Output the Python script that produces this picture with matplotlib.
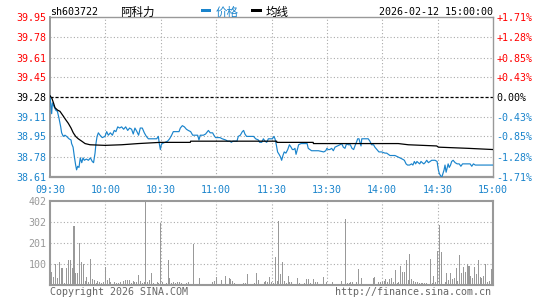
import matplotlib
matplotlib.use("Agg")
import matplotlib.pyplot as plt
from matplotlib.patches import Rectangle

# ---------------- data ----------------
stock_code = "sh603722"
stock_name = "阿科力"
timestamp = "2026-02-12 15:00:00"
prev_close = 39.28

price_ticks = [38.61, 38.78, 38.95, 39.11, 39.28, 39.45, 39.61, 39.78, 39.95]
price_tick_labels = ["38.61", "38.78", "38.95", "39.11", "39.28", "39.45", "39.61", "39.78", "39.95"]
pct_tick_labels = ["-1.71%", "-1.28%", "-0.85%", "-0.43%", "0.00%", "+0.43%", "+0.85%", "+1.28%", "+1.71%"]

time_ticks = [0, 30, 60, 90, 120, 150, 180, 210, 240]
time_labels = ["09:30", "10:00", "10:30", "11:00", "11:30", "13:30", "14:00", "14:30", "15:00"]

vol_ticks = [100, 201, 302, 402]
vol_tick_labels = ["100", "201", "302", "402"]

# minutes since 09:30 (lunch break collapsed)
price_t = [0, 0.9, 1.3, 2.2, 3.1, 4.0, 4.9, 5.8, 6.3, 7.2, 8.1, 9.0, 10.3, 11.4, 11.7, 12.5, 13.2, 13.9,
           14.4, 15.0, 15.7, 16.4, 17.2, 17.9, 18.6, 19.7, 20.8, 21.9, 22.9, 23.6, 24.4, 24.9, 25.5, 26.2,
           27.1, 28.3, 29.8, 30.7, 31.6, 32.7, 33.8, 34.8, 35.7, 36.7, 37.7, 38.8, 39.9, 41.0, 42.1, 43.1,
           44.2, 45.1, 46.0, 47.1, 48.0, 48.9, 50.0, 51.1, 52.2, 53.3, 55.1, 56.9, 57.8, 58.7, 59.2, 59.8,
           60.3, 60.8, 62.3, 63.7, 64.8, 65.9, 66.8, 68.6, 69.9, 70.6, 71.7, 72.8, 73.9, 74.9, 76.2, 77.3,
           78.9, 80.0, 80.7, 81.4, 83.1, 84.3, 85.8, 86.8, 88.1, 88.8, 89.7, 92.1, 93.3, 95.2, 96.2, 97.6,
           98.2, 99.1, 101.3, 102.0, 103.1, 104.2, 104.9, 105.6, 106.5, 108.3, 110.3, 111.4, 112.9, 113.6,
           114.7, 115.6, 116.5, 117.4, 118.3, 120.5, 121.3, 121.9, 122.6, 123.3, 124.1, 124.8, 125.5, 126.2,
           126.9, 127.8, 128.8, 129.7, 130.6, 131.3, 132.0, 132.7, 133.3, 134.0, 134.7, 136.0, 138.5, 139.3,
           139.9, 140.8, 141.7, 145.4, 148.3, 149.4, 150.0, 150.7, 151.6, 152.6, 153.5, 154.4, 155.8, 157.1,
           158.0, 158.9, 159.8, 160.7, 161.6, 162.7, 163.6, 164.5, 165.2, 166.0, 166.7, 167.4, 167.9, 168.5,
           168.9, 172.4, 173.3, 174.2, 175.3, 176.0, 177.1, 178.2, 179.7, 181.5, 182.4, 183.3, 184.2, 186.9,
           188.3, 189.6, 190.9, 192.0, 192.9, 193.7, 194.8, 195.9, 196.6, 197.4, 198.1, 198.8, 199.5, 200.3,
           201.0, 201.7, 202.5, 203.2, 204.1, 205.0, 206.8, 208.6, 209.7, 210.4, 210.9, 211.6, 212.3, 212.9,
           213.5, 214.0, 214.6, 215.2, 215.7, 216.3, 217.0, 217.6, 218.4, 219.5, 220.6, 221.7, 222.6, 223.5,
           225.8, 227.6, 228.5, 229.4, 230.4, 240]
price_v = [39.29, 39.14, 39.23, 39.20, 39.17, 39.16, 39.10, 39.03, 38.98, 38.95, 38.96, 38.95, 38.93, 38.92,
           38.89, 38.86, 38.78, 38.71, 38.67, 38.70, 38.69, 38.77, 38.73, 38.77, 38.75, 38.76, 38.75, 38.77,
           38.74, 38.73, 38.81, 38.89, 38.95, 38.98, 38.96, 38.94, 38.95, 38.99, 38.96, 38.98, 38.96, 39.00,
           38.99, 39.03, 39.02, 39.03, 39.01, 39.03, 39.00, 39.02, 39.01, 38.97, 39.02, 38.99, 38.96, 39.02,
           39.02, 38.98, 38.95, 38.93, 38.93, 38.93, 38.93, 38.95, 38.89, 38.84, 38.88, 38.89, 38.90, 38.91,
           38.93, 38.96, 38.99, 38.99, 38.99, 39.02, 39.04, 39.03, 39.01, 39.00, 38.99, 38.96, 38.96, 38.96,
           38.92, 38.96, 38.96, 38.97, 39.00, 38.98, 38.98, 38.96, 38.94, 38.94, 38.93, 38.92, 38.91, 38.91,
           38.90, 38.91, 38.91, 38.95, 38.96, 38.99, 39.00, 38.97, 38.95, 38.95, 38.95, 38.93, 38.92, 38.90,
           38.90, 38.93, 38.91, 38.90, 38.93, 38.93, 38.95, 38.93, 38.88, 38.82, 38.80, 38.78, 38.75, 38.79,
           38.82, 38.81, 38.84, 38.88, 38.86, 38.84, 38.84, 38.85, 38.80, 38.84, 38.88, 38.89, 38.89, 38.89,
           38.85, 38.84, 38.83, 38.83, 38.82, 38.83, 38.85, 38.84, 38.84, 38.85, 38.83, 38.86, 38.87, 38.88,
           38.89, 38.86, 38.85, 38.89, 38.88, 38.88, 38.85, 38.84, 38.87, 38.90, 38.93, 38.93, 38.90, 38.87,
           38.93, 38.93, 38.91, 38.88, 38.88, 38.86, 38.84, 38.82, 38.82, 38.81, 38.81, 38.80, 38.79, 38.79,
           38.78, 38.77, 38.76, 38.75, 38.72, 38.71, 38.71, 38.72, 38.71, 38.74, 38.72, 38.74, 38.73, 38.72,
           38.74, 38.73, 38.72, 38.73, 38.75, 38.73, 38.75, 38.75, 38.74, 38.67, 38.64, 38.62, 38.61, 38.64,
           38.67, 38.71, 38.65, 38.69, 38.72, 38.69, 38.71, 38.74, 38.75, 38.73, 38.72, 38.72, 38.70, 38.72,
           38.72, 38.72, 38.70, 38.72, 38.71, 38.71]

avg_t = [0, 1.0, 1.9, 2.7, 4.1, 5.4, 7.2, 8.5, 9.9, 11.4, 12.6, 13.9, 15.3, 17.2, 19.0, 21.7, 29.8, 38.8,
         47.8, 59.6, 76.0, 76.2, 122.8, 122.9, 142.6, 142.7, 188.7, 194.1, 209.5, 210.4, 226.6, 240]
avg_v = [39.29, 39.27, 39.23, 39.19, 39.17, 39.16, 39.12, 39.09, 39.06, 39.02, 38.98, 38.95, 38.93, 38.91,
         38.89, 38.88, 38.875, 38.88, 38.89, 38.90, 38.90, 38.91, 38.91, 38.90, 38.90, 38.89, 38.89, 38.88,
         38.87, 38.86, 38.85, 38.84]

volume = [60, 64, 40, 99, 35, 112, 83, 83, 11, 83,
          120, 120, 80, 283, 59, 59, 200, 112, 101, 19,
          40, 16, 125, 29, 24, 8, 19, 13, 10, 13,
          85, 24, 35, 13, 5, 13, 10, 10, 14, 6,
          21, 24, 22, 24, 8, 19, 13, 16, 48, 19,
          11, 16, 402, 13, 24, 59, 10, 6, 13, 10,
          295, 13, 6, 10, 120, 35, 8, 13, 8, 16,
          13, 11, 6, 6, 10, 13, 3, 6, 196, 3,
          5, 35, 3, 3, 3, 3, 3, 5, 13, 19,
          40, 5, 3, 24, 6, 45, 3, 35, 27, 19,
          8, 3, 3, 3, 3, 10, 11, 54, 6, 3,
          3, 8, 57, 24, 3, 3, 13, 19, 13, 40,
          13, 8, 136, 19, 307, 53, 112, 19, 8, 45,
          13, 13, 3, 3, 35, 8, 3, 6, 8, 29,
          29, 8, 3, 29, 13, 13, 6, 3, 38, 6,
          13, 3, 3, 13, 6, 3, 3, 3, 19, 3,
          316, 8, 8, 16, 16, 3, 13, 77, 3, 35,
          3, 3, 3, 3, 3, 32, 38, 3, 13, 13,
          13, 19, 29, 13, 29, 35, 13, 72, 8, 13,
          91, 64, 64, 120, 24, 149, 29, 19, 13, 13,
          8, 8, 8, 8, 8, 3, 125, 8, 43, 13,
          163, 287, 156, 3, 13, 59, 24, 59, 29, 35,
          83, 19, 144, 59, 88, 64, 99, 93, 45, 35,
          88, 54, 120, 40, 35, 43, 99, 16, 19, 77,
          13]
vol_t = list(range(len(volume)))

# ---------------- style ----------------
BLUE = "#1a84cc"
RED = "#ff0000"
GRAY = "#999999"
MONO = "DejaVu Sans Mono"
CJK = ["Noto Sans CJK SC", "DejaVu Sans"]
FS = 7.2

W, H = 545, 300
fig = plt.figure(figsize=(W / 100, H / 100), dpi=100)
fig.patch.set_facecolor("white")

def fx(px):
    return px / W

def fy(py):
    return 1 - py / H

# price panel
ax = fig.add_axes([fx(50), fy(177), fx(493) - fx(50), fy(17) - fy(177)])
ax.set_xlim(0, 240)
ax.set_ylim(price_ticks[0], price_ticks[-1])
for tp in price_ticks[1:-1]:
    if abs(tp - prev_close) < 1e-6:
        ax.axhline(tp, color="black", lw=0.9, ls=(0, (2.5, 1.5)), zorder=1)
    else:
        ax.axhline(tp, color="#aaaaaa", lw=0.8, ls=(0, (1, 2)), zorder=1)
for tt in time_ticks[1:-1]:
    ax.axvline(tt, color="#aaaaaa", lw=0.8, ls=(0, (1, 2)), zorder=1)

ax.plot(price_t, price_v, color=BLUE, lw=0.85, zorder=3)
ax.plot(avg_t, avg_v, color="black", lw=0.9, zorder=4)

for s in ax.spines.values():
    s.set_color(GRAY)
    s.set_linewidth(1.0)
ax.spines["bottom"].set_linewidth(1.6)
ax.spines["left"].set_linewidth(1.4)

ax.set_yticks(price_ticks)
ax.set_yticklabels(price_tick_labels, fontfamily=MONO, fontsize=FS)
ax.set_xticks(time_ticks)
ax.set_xticklabels(time_labels, fontfamily=MONO, fontsize=FS, color=BLUE)
ax.tick_params(axis="y", length=0, pad=2.6)
ax.tick_params(axis="x", length=0, pad=5.5)

ax2 = ax.twinx()
ax2.set_ylim(price_ticks[0], price_ticks[-1])
ax2.set_yticks(price_ticks)
ax2.set_yticklabels(pct_tick_labels, fontfamily=MONO, fontsize=FS)
ax2.tick_params(axis="y", length=0, pad=2.2)
for s in ax2.spines.values():
    s.set_visible(False)

for lab1, lab2, tp in zip(ax.get_yticklabels(), ax2.get_yticklabels(), price_ticks):
    if tp > prev_close + 1e-6:
        c = RED
    elif tp < prev_close - 1e-6:
        c = BLUE
    else:
        c = "black"
    lab1.set_color(c)
    lab2.set_color(c)

# volume panel
axv = fig.add_axes([fx(50), fy(285), fx(493) - fx(50), fy(201) - fy(285)])
axv.set_xlim(0, 240)
axv.set_ylim(0, 402)
for tv in vol_ticks[:-1]:
    axv.axhline(tv, color="#aaaaaa", lw=0.8, ls=(0, (1, 2)), zorder=1)
for tt in time_ticks[1:-1]:
    axv.axvline(tt, color="#aaaaaa", lw=0.8, ls=(0, (1, 2)), zorder=1)
axv.bar(vol_t, volume, width=0.55, color=GRAY, zorder=3)
for s in axv.spines.values():
    s.set_color(GRAY)
    s.set_linewidth(1.5)
axv.set_xticks([])
axv.set_yticks(vol_ticks)
axv.set_yticklabels(vol_tick_labels, fontfamily=MONO, fontsize=FS, color=GRAY)
axv.tick_params(axis="y", length=0, pad=2.6)

# header
fig.text(fx(50), fy(12), stock_code, fontfamily=MONO, fontsize=FS, va="center", ha="left")
fig.text(fx(120), fy(12), stock_name, family=CJK, fontsize=8.3, va="center", ha="left")
fig.add_artist(Rectangle((fx(200.5), fy(11.5)), fx(10.5), 2.5 / H, transform=fig.transFigure,
                         color=BLUE, lw=0))
fig.text(fx(216), fy(12), "价格", family=CJK, fontsize=8.3, color=BLUE, va="center", ha="left")
fig.add_artist(Rectangle((fx(251), fy(11.5)), fx(10.5), 2.5 / H, transform=fig.transFigure,
                         color="black", lw=0))
fig.text(fx(266), fy(12), "均线", family=CJK, fontsize=8.3, color="black", va="center", ha="left")
fig.text(fx(493), fy(12), timestamp, fontfamily=MONO, fontsize=FS, va="center", ha="right")

# footer
fig.text(fx(50), fy(292), "Copyright 2026 SINA.COM", fontfamily=MONO, fontsize=FS,
         color="#666666", va="center", ha="left")
fig.text(fx(491), fy(292), "http://finance.sina.com.cn", fontfamily=MONO, fontsize=FS,
         color="#666666", va="center", ha="right")

fig.savefig("out.png", dpi=100)
